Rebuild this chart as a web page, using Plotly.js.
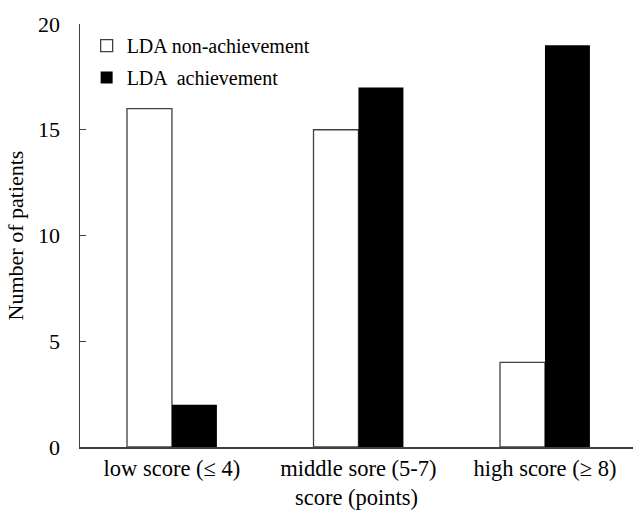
<!DOCTYPE html>
<html>
<head>
<meta charset="utf-8">
<script src="https://cdn.plot.ly/plotly-3.0.1.min.js"></script>
<style>html,body{margin:0;padding:0;background:#fff;overflow:hidden}</style>
</head>
<body>
<div id="chart" style="width:633px;height:515px"></div>
<script>
const categories = ["low score (\u2264 4)", "middle sore (5-7)", "high score (\u2265 8)"];
const nonAchievement = [16, 15, 4];
const achievement = [2, 17, 19];
const seriesNames = ["LDA non-achievement", "LDA  achievement"];
const yTicks = [0, 5, 10, 15, 20];

const font = "'Liberation Serif', 'Times New Roman', serif";

const traces = [
  {
    type: "bar", name: seriesNames[0], x: categories, y: nonAchievement,
    marker: {color: "#ffffff", line: {color: "#404040", width: 1.3}},
    legendgroup: "a"
  },
  {
    type: "bar", name: seriesNames[1], x: categories, y: achievement,
    marker: {color: "#000000", line: {color: "#000000", width: 0}},
    legendgroup: "b"
  }
];

const layout = {
  width: 633, height: 515,
  margin: {l: 80, r: 0, t: 24, b: 68, pad: 0},
  paper_bgcolor: "#fff", plot_bgcolor: "#fff",
  font: {family: font, color: "#000", size: 21},
  barmode: "group", bargap: 0.518, bargroupgap: 0,
  showlegend: true,
  legend: {
    x: 0.012, y: 0.995, xanchor: "left", yanchor: "top",
    font: {family: font, size: 20, color: "#000"},
    bgcolor: "rgba(0,0,0,0)", traceorder: "grouped", tracegroupgap: 3,
    itemwidth: 30
  },
  xaxis: {
    type: "category", range: [-0.493, 2.472],
    showline: true, linecolor: "#404040", linewidth: 1.5,
    ticks: "", showgrid: false, zeroline: false,
    tickfont: {family: font, size: 22.5, color: "#000"},
    title: {text: "score (points)", font: {family: font, size: 22.5, color: "#000"}, standoff: 9}
  },
  yaxis: {
    range: [0, 20], tickvals: yTicks, ticktext: yTicks.map(String),
    showline: true, linecolor: "#404040", linewidth: 1.5,
    ticks: "inside", ticklen: 6, tickcolor: "#404040", tickwidth: 1.3,
    ticklabelstandoff: 14,
    showgrid: false, zeroline: false,
    tickfont: {family: font, size: 22, color: "#000"},
    title: {text: "Number of patients", font: {family: font, size: 22, color: "#000"}, standoff: 8}
  }
};

Plotly.newPlot("chart", traces, layout, {displayModeBar: false, staticPlot: true});
</script>
</body>
</html>
